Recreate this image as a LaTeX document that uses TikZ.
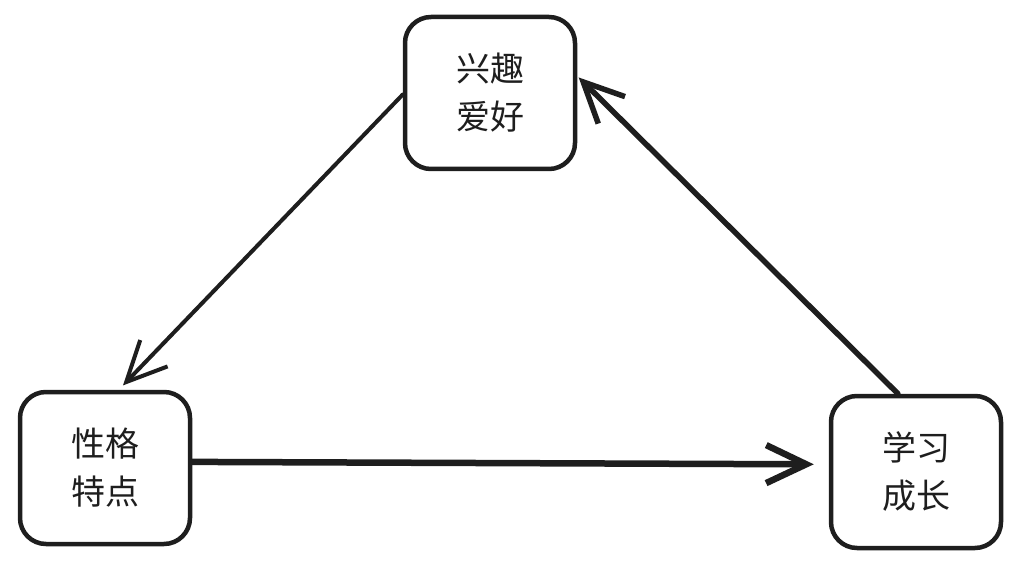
\documentclass[tikz,border=0pt]{standalone}
\usepackage{fontspec}
\newfontfamily\cjk{Noto Sans CJK SC}
\usetikzlibrary{arrows.meta}
\definecolor{ink}{HTML}{1E1E1E}

\begin{document}
\begin{tikzpicture}
[boxdecorate/.style={shape=rectangle,draw=ink,line width=4.5pt,rounded corners=26pt,
   minimum width=170pt,minimum height=152pt,align=center,text=ink,
   font=\cjk\fontsize{34}{48}\selectfont},%
  linedecorate/.style={-{Straight Barb[length=40pt,width=38pt]},draw=ink,line cap=round},%
  x=1pt,y=-1pt]
\useasboundingbox (0,0) rectangle (1018,567);
%% nodes or boxes
\foreach \nodename/\x/\y/\words in {
  interest/490/93/兴趣\\爱好,
  trait/105/468/性格\\特点,
  growth/916/472/学习\\成长}
{
  \node (\nodename) at (\x,\y) [boxdecorate] {\words};
}
%% edges or arrows
\path
\foreach \startnode/\endnode/\width/\gap in {
  interest.181/trait.80/4/6,
  trait.4/growth.175/6.5/15,
  growth.103/interest.11/5.5/2}
{
  (\startnode) edge[linedecorate,line width=\width pt,shorten >=\gap pt] (\endnode)
};
\end{tikzpicture}
\end{document}
